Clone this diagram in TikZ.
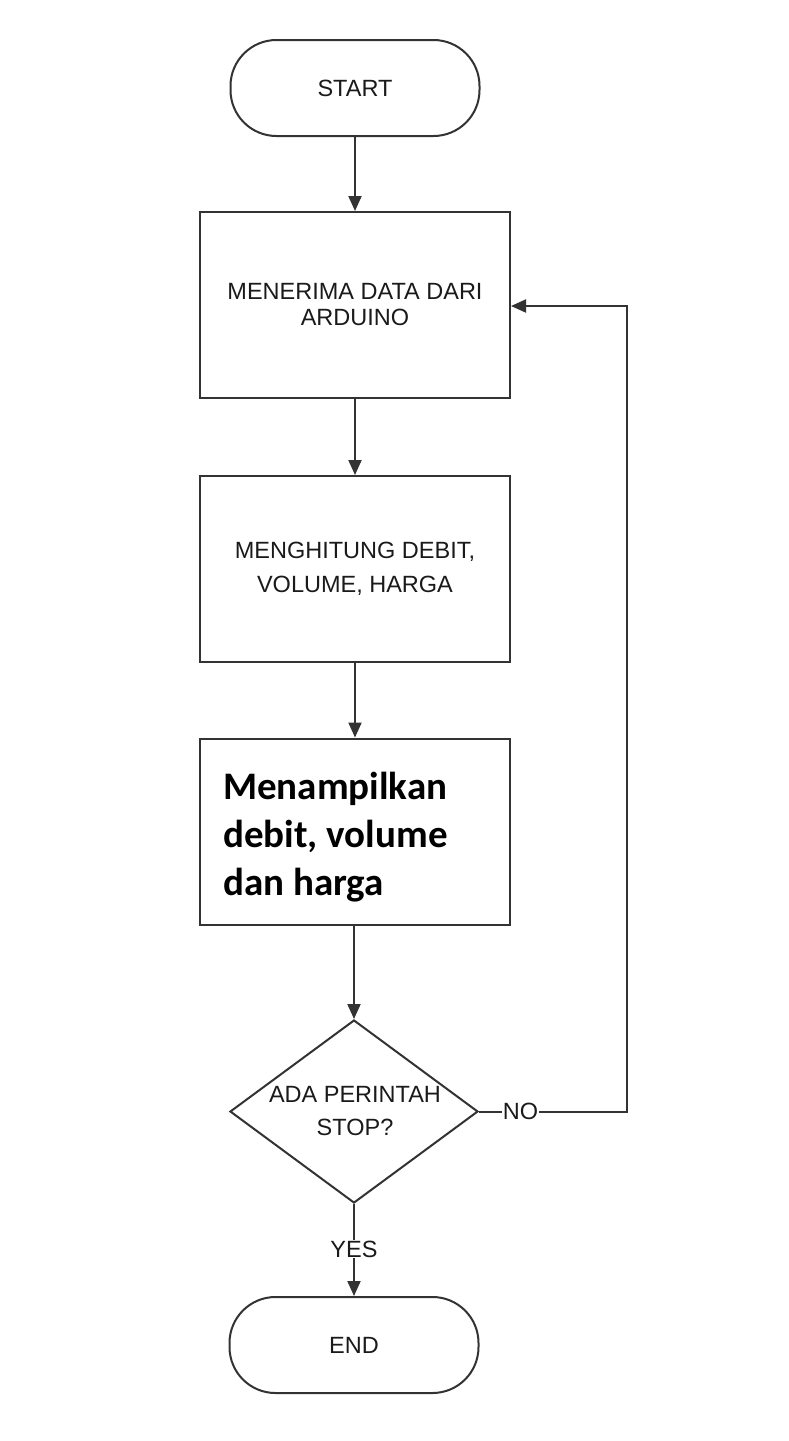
\documentclass[tikz,border=0pt]{standalone}
\usepackage{fontspec}
\setmainfont{Liberation Sans}
\newfontfamily\boxfont{Carlito}
\usetikzlibrary{shapes.geometric,arrows.meta}
\definecolor{linec}{HTML}{333333}
\definecolor{txtc}{HTML}{1A1A1A}
\begin{document}
\begin{tikzpicture}[x=1pt,y=-1pt,
  every node/.style={text=txtc},
  lab/.style={font=\fontsize{23.5}{26}\selectfont},
  term/.style={draw=linec,line width=2pt,rounded corners=46pt,minimum width=249pt,minimum height=96pt,inner sep=0pt,lab},
  procbox/.style={draw=linec,line width=2pt,minimum width=310pt,minimum height=186pt,inner sep=0pt,align=center},
  dec/.style={draw=linec,line width=2pt,diamond,minimum width=248pt,minimum height=183pt,inner sep=0pt},
  conn/.style={draw=linec,line width=2pt,-{Triangle[length=15pt,width=13pt]}},
  lbl/.style={fill=white,inner sep=1pt,lab}]
\useasboundingbox[fill=white] (0,0) rectangle (789,1441);
\node[term] (start) at (355,88) {START};
\node[procbox,font=\fontsize{23.5}{26}\selectfont] (b1) at (355,305) {MENERIMA DATA DARI\\ARDUINO};
\node[procbox,font=\fontsize{23.5}{34}\selectfont] (b2) at (355,569) {MENGHITUNG DEBIT,\\VOLUME, HARGA};
\node[procbox] (b3) at (355,831.5) {};
\node[anchor=base west,align=left,inner sep=0pt,text=black,font=\boxfont\bfseries\fontsize{39}{48}\selectfont] (t3) at (223,895) {Menampilkan\\debit, volume\\dan harga};
\node[dec] (dia) at (354,1111.5) {};
\node[align=center,inner sep=0pt,font=\fontsize{23.5}{33}\selectfont] (dt) at (355,1111) {ADA PERINTAH\\STOP?};
\node[term] (endn) at (354,1345) {END};
\coordinate (c1) at (627,1111.5);
\coordinate (c2) at (627,306);
\draw[conn] (start) -- (b1);
\draw[conn] (b1) -- (b2);
\draw[conn] (b2) -- (b3);
\draw[conn] (b3.south -| dia.north) -- (dia.north);
\draw[conn] (dia.south) -- node[lbl,pos=0.49] {YES} (endn.north);
\draw[conn] (dia.east) -- node[lbl,pos=0.28] {NO} (c1) -- (c2) -- (b1.east |- c2);
\end{tikzpicture}
\end{document}
